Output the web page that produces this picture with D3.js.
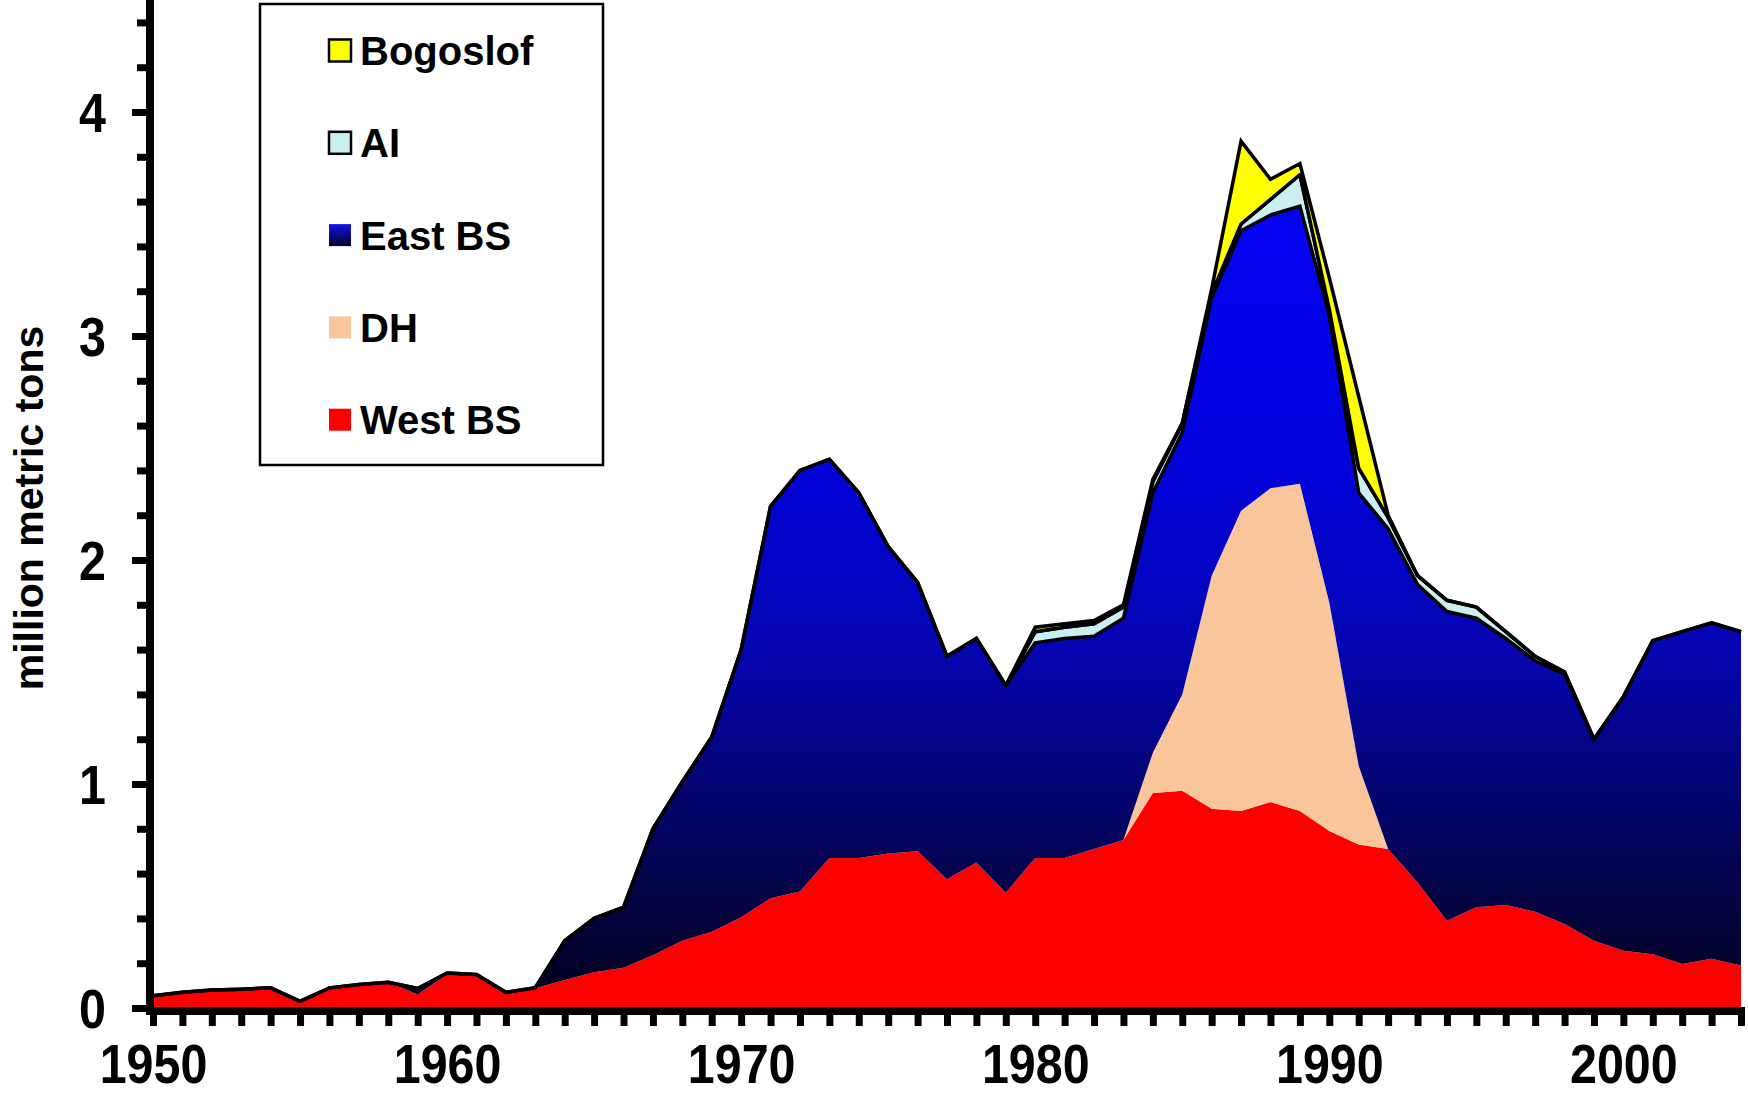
<!DOCTYPE html>
<html><head><meta charset="utf-8">
<script src="https://cdn.jsdelivr.net/npm/d3@7"></script>
<style>
body{margin:0;background:#fff}
svg{display:block}
text{font-family:"Liberation Sans",Arial,sans-serif;font-weight:bold;fill:#000}
</style>
</head><body>
<svg id="chart" width="1748" height="1095"></svg>
<script>
// ---- data (million metric tons) ----
const years = [1950,1951,1952,1953,1954,1955,1956,1957,1958,1959,
               1960,1961,1962,1963,1964,1965,1966,1967,1968,1969,
               1970,1971,1972,1973,1974,1975,1976,1977,1978,1979,
               1980,1981,1982,1983,1984,1985,1986,1987,1988,1989,
               1990,1991,1992,1993,1994,1995,1996,1997,1998,1999,
               2000,2001,2002,2003,2004];
const westBS = [0.055,0.07,0.08,0.084,0.09,0.03,0.09,0.105,0.115,0.06,
                0.15,0.145,0.065,0.088,0.125,0.16,0.18,0.235,0.30,0.34,
                0.405,0.49,0.52,0.67,0.67,0.69,0.70,0.575,0.65,0.515,
                0.67,0.67,0.71,0.75,0.96,0.97,0.89,0.88,0.92,0.88,
                0.79,0.73,0.71,0.56,0.39,0.45,0.46,0.43,0.375,0.30,
                0.256,0.24,0.196,0.22,0.19];
const dh     = [0,0,0,0,0,0,0,0,0,0,
                0,0,0,0,0,0,0,0,0,0,
                0,0,0,0,0,0,0,0,0,0,
                0,0,0,0,0.18,0.43,1.04,1.34,1.40,1.46,
                1.02,0.35,0,0,0,0,0,0,0,0,
                0,0,0,0,0];
const eastBS = [0,0,0,0,0,0,0,0,0,0.027,
                0.006,0.005,0.005,0.003,0.175,0.24,0.27,0.565,0.71,0.87,
                1.195,1.75,1.88,1.78,1.63,1.37,1.20,0.995,1.00,0.925,
                0.96,0.98,0.95,0.99,1.16,1.17,1.24,1.25,1.22,1.24,
                1.28,1.22,1.43,1.33,1.38,1.29,1.19,1.12,1.115,0.90,
                1.134,1.40,1.484,1.50,1.49];
const ai     = [0,0,0,0,0,0,0,0,0,0,
                0,0,0,0,0,0,0,0,0,0,
                0,0,0,0,0,0,0,0,0,0,
                0.05,0.05,0.055,0.05,0.05,0.04,0.02,0.03,0.07,0.14,
                0.03,0.11,0.05,0.04,0.05,0.05,0.03,0.02,0.01,0,
                0,0,0,0,0];
const bogoslof = [0,0,0,0,0,0,0,0,0,0,
                0,0,0,0,0,0,0,0,0,0,
                0,0,0,0,0,0,0,0,0,0,
                0.02,0.015,0.015,0.01,0.01,0,0.02,0.37,0.09,0.05,
                0.14,0.32,0.01,0,0,0,0,0,0,0,
                0,0,0,0,0];
const seriesKeys = ["westBS","dh","eastBS","ai","bogoslof"];
const legendLabels = ["Bogoslof","AI","East BS","DH","West BS"];
const legendKeys = ["bogoslof","ai","eastBS","dh","westBS"];
const yMajorTicks = [0,1,2,3,4];
const yMinorTicks = [0,0.2,0.4,0.6,0.8,1,1.2,1.4,1.6,1.8,2,2.2,2.4,2.6,2.8,3,3.2,3.4,3.6,3.8,4,4.2,4.4];
const xLabelYears = [1950,1960,1970,1980,1990,2000];

// ---- build table ----
const table = years.map((yr,i)=>({year:yr, westBS:westBS[i], dh:dh[i], eastBS:eastBS[i], ai:ai[i], bogoslof:bogoslof[i]}));

const svg = d3.select("#chart");
const x = d3.scaleLinear().domain([1950,2004]).range([153,1741]);
const y = d3.scaleLinear().domain([0,4.5]).range([1008,0]);

const defs = svg.append("defs");
const eg = defs.append("linearGradient").attr("id","eastGrad")
  .attr("gradientUnits","userSpaceOnUse").attr("x1",0).attr("x2",0)
  .attr("y1",y(4)).attr("y2",y(0));
[[0.0,"#1010ff"],[0.05,"#0404f8"],[0.375,"#0202de"],[0.6,"#0505b2"],[0.75,"#040474"],[0.92,"#020234"],[1,"#00001c"]]
  .forEach(([o,c])=>eg.append("stop").attr("offset",o).attr("stop-color",c));
const egl = defs.append("linearGradient").attr("id","eastGradLeg").attr("x1",0).attr("x2",0).attr("y1",0).attr("y2",1);
egl.append("stop").attr("offset",0).attr("stop-color","#1414e8");
egl.append("stop").attr("offset",1).attr("stop-color","#00002a");

const fills = {westBS:"#ff0000", dh:"#f8c69a", eastBS:"url(#eastGrad)", ai:"#c9eff0", bogoslof:"#ffff00"};
const stroked = {ai:true, bogoslof:true};

const stack = d3.stack().keys(seriesKeys);
const stacked = stack(table);
const area = d3.area().x(d=>x(d.data.year)).y0(d=>y(d[0])).y1(d=>y(d[1]));

svg.append("g").selectAll("path").data(stacked).join("path")
  .attr("d",area)
  .attr("fill",d=>fills[d.key])
  .attr("stroke",d=>stroked[d.key]?"#000":"none")
  .attr("stroke-width",3.5)
  .attr("stroke-linejoin","miter");

// ---- axes ----
const NARROW = 0.88;
const yMinor = svg.append("g").attr("transform","translate(146,0)")
  .call(d3.axisLeft(y).tickValues(yMinorTicks).tickSize(9).tickFormat(""));
const yMajor = svg.append("g").attr("transform","translate(146,0)")
  .call(d3.axisLeft(y).tickValues(yMajorTicks).tickSize(14).tickFormat(d3.format("d")));
[yMinor,yMajor].forEach(g=>{
  g.select(".domain").remove();
  g.selectAll(".tick line").attr("stroke","#000").attr("stroke-width",7);
});
yMajor.selectAll(".tick text")
  .attr("font-size",55).attr("font-family","'Liberation Sans',Arial,sans-serif")
  .attr("font-weight","bold").attr("fill","#000")
  .attr("x",-40/NARROW).attr("dy",null).attr("y",19)
  .attr("transform",`scale(${NARROW},1)`);

const xAx = svg.append("g").attr("transform","translate(0,1015)")
  .call(d3.axisBottom(x).tickValues(years).tickSize(11)
        .tickFormat(d=>xLabelYears.includes(d)?String(d):""));
xAx.select(".domain").remove();
xAx.selectAll(".tick line").attr("stroke","#000").attr("stroke-width",7);
xAx.selectAll(".tick text")
  .attr("font-size",55).attr("font-family","'Liberation Sans',Arial,sans-serif")
  .attr("font-weight","bold").attr("fill","#000")
  .attr("dy",null).attr("y",68)
  .attr("transform",`scale(${NARROW},1)`);

// axis lines
svg.append("line").attr("x1",150).attr("x2",150).attr("y1",0).attr("y2",1015).attr("stroke","#000").attr("stroke-width",8);
svg.append("line").attr("x1",146).attr("x2",1745).attr("y1",1011).attr("y2",1011).attr("stroke","#000").attr("stroke-width",8);

// y title
svg.append("text").attr("transform","translate(43,508) rotate(-90)")
  .attr("text-anchor","middle").attr("font-size",41).text("million metric tons");

// ---- legend ----
const lg = svg.append("g");
lg.append("rect").attr("x",260).attr("y",4).attr("width",343).attr("height",461)
  .attr("fill","#fff").attr("stroke","#000").attr("stroke-width",2.5);
const legFill = {bogoslof:"#ffff00", ai:"#c9eff0", eastBS:"url(#eastGradLeg)", dh:"#f8c69a", westBS:"#ff0000"};
const legStroke = {bogoslof:"#000", ai:"#000"};
legendKeys.forEach((k,i)=>{
  const cy = 51 + i*92.3;
  lg.append("rect").attr("x",329).attr("y",cy-11.5).attr("width",22).attr("height",22)
    .attr("fill",legFill[k]).attr("stroke",legStroke[k]||"none").attr("stroke-width",2.5);
  lg.append("text").attr("x",360).attr("y",cy+14).attr("font-size",40).text(legendLabels[i]);
});
</script>
</body></html>
